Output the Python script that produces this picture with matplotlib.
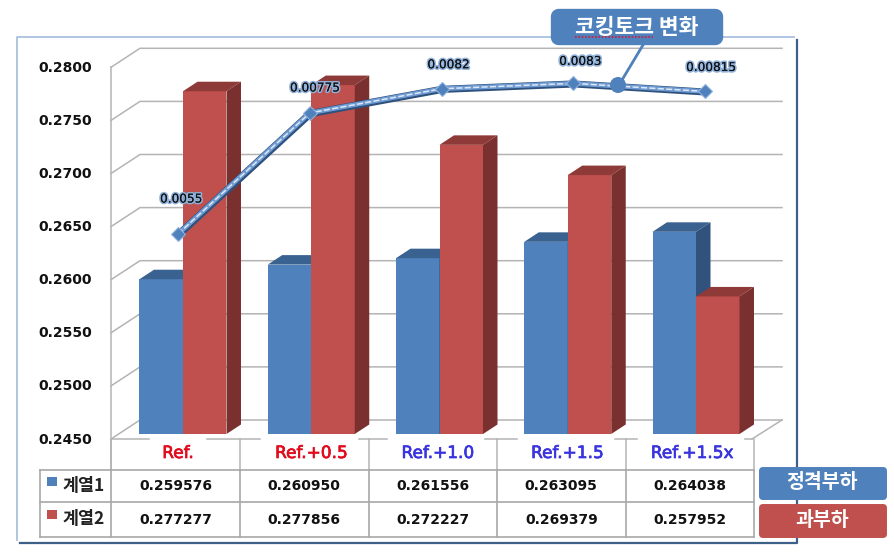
#!/usr/bin/env python3
# -*- coding: utf-8 -*-

import matplotlib as mpl
mpl.use('Agg')
import matplotlib.pyplot as plt
import matplotlib.patheffects as pe
from matplotlib.patches import FancyBboxPatch, Polygon, Circle, Rectangle

plt.rcParams['font.family'] = ['DejaVu Sans', 'Noto Sans CJK KR']
KR = ['Noto Sans CJK KR', 'DejaVu Sans']

categories = ['Ref.', 'Ref.+0.5', 'Ref.+1.0', 'Ref.+1.5', 'Ref.+1.5x']
cat_colors = ['#e00b1c', '#e00b1c', '#3a34de', '#3a34de', '#3a34de']
series1 = [0.259576, 0.260950, 0.261556, 0.263095, 0.264038]
series2 = [0.277277, 0.277856, 0.272227, 0.269379, 0.257952]
series_names = ['계열1', '계열2']
torque = [0.0055, 0.00775, 0.0082, 0.0083, 0.00815]
torque_labels = ['0.0055', '0.00775', '0.0082', '0.0083', '0.00815']
yticks = [0.2450, 0.2500, 0.2550, 0.2600, 0.2650, 0.2700, 0.2750, 0.2800]

BLUE, BLUE_TOP, BLUE_SIDE = '#4f81bd', '#3a6291', '#30527c'
RED, RED_TOP, RED_SIDE = '#c0504d', '#8e3a38', '#7a302e'
GRID = '#b4b4b4'
W, H = 894, 552


def full_axes(fig, zorder):
    a = fig.add_axes([0, 0, 1, 1], zorder=zorder)
    a.axis('off')
    a.patch.set_alpha(0)
    return a


def bar3d(ax, x0, width, value, base, front, top, side):
    dx, dy = 14.5 / PX_X, 9.5 / PX_Y
    ax.add_patch(Rectangle((x0, base), width, value - base, fc=front, ec='none', zorder=3))
    ax.add_patch(Polygon([(x0, value), (x0 + width, value), (x0 + width + dx, value + dy), (x0 + dx, value + dy)],
                         fc=top, ec='none', zorder=3))
    ax.add_patch(Polygon([(x0 + width, base), (x0 + width + dx, base + dy), (x0 + width + dx, value + dy), (x0 + width, value)],
                         fc=side, ec='none', zorder=3))


fig = plt.figure(figsize=(W / 100, H / 100), dpi=100)

# background, wall and table are laid out in pixels
bg = full_axes(fig, 0)
bg.set_xlim(0, W)
bg.set_ylim(H, 0)
bg.plot([17, 17, 794], [540, 37, 37], color='#a9c1de', lw=1.3)
bg.plot([20, 797, 797], [543, 543, 40], color='#3c6088', lw=1.6)

for k in range(len(yticks)):
    y_front = 439 - 53.1 * k
    y_back = 420 - 53.1 * k
    bg.plot([111, 140, 782], [y_front, y_back, y_back], color=GRID, lw=1.1)
    bg.text(92, y_front + 0.5, '%.4f' % yticks[k], ha='right', va='center', fontsize=10, fontweight='bold', color='#111111')
bg.plot([111, 111], [67, 470], color=GRID, lw=1.1)
bg.plot([782, 752], [420, 439], color=GRID, lw=1.1)
for x0, x1 in [(111, 149), (207, 260), (359, 387), (485, 517), (615, 637), (745, 752)]:
    bg.plot([x0, x1], [439, 439], color=GRID, lw=1.1)

# table
col_x = [111, 240, 368.5, 497, 625.5, 753.5]
cat_shift = [2.5, 7, 5, 6, 2.5]
for x in col_x:
    bg.plot([x, x], [439, 470], color=GRID, lw=1.1)
    bg.plot([x, x], [470, 537], color='#a8a8a8', lw=1.2)
bg.plot([40, 40], [470, 537], color='#a8a8a8', lw=1.2)
for y in [470, 502, 537]:
    bg.plot([40, 753.5], [y, y], color='#a8a8a8', lw=1.2)
for i, name in enumerate(categories):
    xc = (col_x[i] + col_x[i + 1]) / 2
    bg.text(xc + cat_shift[i], 453, name, ha='center', va='center', fontsize=12.2, color=cat_colors[i],
            path_effects=[pe.withStroke(linewidth=0.5, foreground=cat_colors[i])])
    bg.text(xc, 486.5, '%.6f' % series1[i], ha='center', va='center', fontsize=10, fontweight='bold', color='#111111')
    bg.text(xc, 519.5, '%.6f' % series2[i], ha='center', va='center', fontsize=10, fontweight='bold', color='#111111')
for y, name, col in [(486, series_names[0], BLUE), (519, series_names[1], RED)]:
    bg.add_patch(Rectangle((47, y - 9), 9.5, 9, fc=col, ec='none'))
    bg.text(63, y, name, ha='left', va='center', fontsize=12.5, fontweight='bold', family=KR, color='#222222')

# bars, value axis mapped on the pixel grid of the picture
PX_X, PX_Y = 128.25, 10620.0
ax = full_axes(fig, 1)
ax.set_xlim(-183 / PX_X, (W - 183) / PX_X)
ax.set_ylim(yticks[0] - (H - 434) / PX_Y, yticks[0] + 434 / PX_Y)
bar_w = 43.5 / PX_X
for i in range(len(categories)):
    bar3d(ax, i - bar_w, bar_w, series1[i], yticks[0], BLUE, BLUE_TOP, BLUE_SIDE)
    bar3d(ax, i, bar_w, series2[i], yticks[0], RED, RED_TOP, RED_SIDE)

# torque line on its own scale
LX, LY = 131.75, 53800.0
ln = full_axes(fig, 2)
ln.set_xlim(-178 / LX, (W - 178) / LX)
ln.set_ylim(0.0055 - (H - 234) / LY, 0.0055 + 234 / LY)
xs = list(range(len(torque)))
ln.plot(xs, torque, color='#2c4d78', lw=4.2, solid_joinstyle='round', zorder=3,
        path_effects=[pe.Stroke(offset=(1, -1.5), linewidth=3, foreground='#2f527f'), pe.Normal()])
ln.plot(xs, torque, color='#6f9bd2', lw=3.4, zorder=4)
ln.plot(xs, torque, color='#dce8f6', lw=1.1, ls=(0, (4, 1.5)), zorder=5)
ln.plot(xs, torque, ls='none', marker='D', ms=7, mfc='#4f81bd', mec='#8fb2dc', mew=0.8, zorder=6)
label_off = [(3, 35), (5, 25), (7, 24), (7, 22), (6, 24)]
for i, txt in enumerate(torque_labels):
    ln.annotate(txt, (i, torque[i]), xytext=label_off[i], textcoords='offset pixels', ha='center', va='center',
                fontsize=8.7, color='#111111', zorder=7,
                path_effects=[pe.withStroke(linewidth=2.4, foreground='#8fb0d8'), pe.Normal()])

# callouts in pixels again
top = full_axes(fig, 3)
top.set_xlim(0, W)
top.set_ylim(H, 0)
top.plot([643, 622], [45, 80], color=BLUE, lw=2)
top.add_patch(Circle((618, 85), 8, fc=BLUE, ec='none'))
top.add_patch(FancyBboxPatch((555, 13), 164, 28, boxstyle='round,pad=0,rounding_size=0.1', mutation_scale=40, fc=BLUE, ec=BLUE, lw=6, joinstyle='round'))
top.text(637, 27, '코킹토크 변화', ha='center', va='center', fontsize=15.5, fontweight='bold', family=KR, color='white')
top.plot([575, 653], [36.5, 36.5], color='#d01c3a', lw=1.2, ls=(0, (1, 1)))
for y0, y1, col, name in [(467, 499, BLUE, '정격부하'), (504, 537, RED, '과부하')]:
    top.add_patch(Rectangle((762, y0 + 3), 121, y1 - y0 - 6, fc=col, ec=col, lw=5, joinstyle='round'))
    top.text(822, (y0 + y1) / 2, name, ha='center', va='center', fontsize=14, fontweight='bold', family=KR, color='white')

fig.savefig('out.png', dpi=100)
